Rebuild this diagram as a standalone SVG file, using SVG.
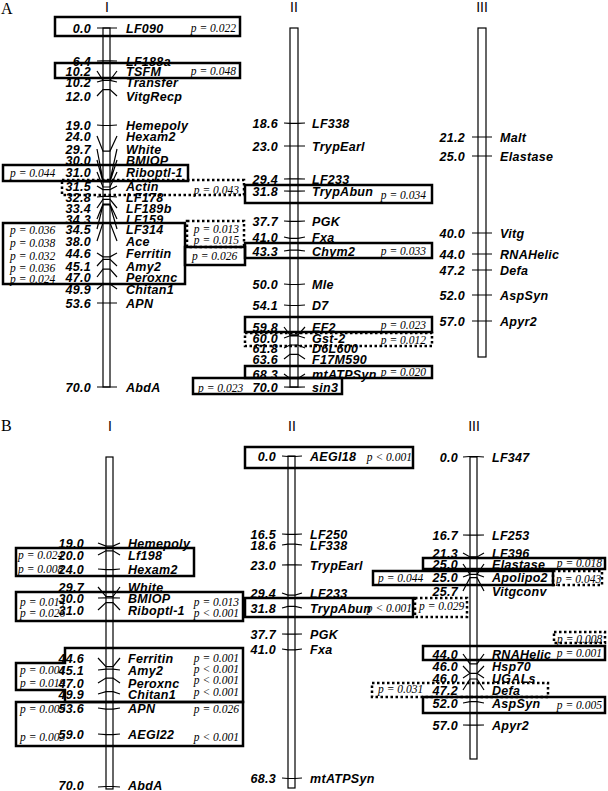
<svg xmlns="http://www.w3.org/2000/svg" width="608" height="791" viewBox="0 0 608 791">
<style>
.bar{fill:#fff;stroke:#000;stroke-width:1.2}
.tk{fill:none;stroke:#000;stroke-width:1.2}
.bx{fill:none;stroke:#000;stroke-width:2.5}
.dt{fill:none;stroke:#000;stroke-width:2.5;stroke-dasharray:2.5 2.5}
.n{font-family:"Liberation Sans",Arial,sans-serif;font-style:italic;font-weight:bold;font-size:12.5px;letter-spacing:0.3px}
.e{text-anchor:end}
.p{font-family:"Liberation Serif","Times New Roman",serif;font-style:italic;font-size:11.5px}
.rn{font-family:"Liberation Sans",Arial,sans-serif;font-size:14px;text-anchor:middle;fill:#000}
.pl{font-family:"Liberation Serif","Times New Roman",serif;font-size:16px}
</style>
<rect width="608" height="791" fill="#fff"/>
<text class="pl" x="1" y="14">A</text>
<text class="pl" x="1" y="431">B</text>

<g id="chrA1">
<text class="rn" x="107" y="12">I</text>
<rect class="bar" x="103" y="28" width="7" height="359"/>
</g>
<g id="chrA2">
<text class="rn" x="294" y="12">II</text>
<rect class="bar" x="290" y="28" width="8" height="359"/>
</g>
<g id="chrA3">
<text class="rn" x="482" y="12">III</text>
<rect class="bar" x="478" y="28" width="8" height="329"/>
</g>
<g id="chrB1">
<text class="rn" x="110" y="431">I</text>
<rect class="bar" x="106" y="457" width="7" height="332"/>
</g>
<g id="chrB2">
<text class="rn" x="292" y="431">II</text>
<rect class="bar" x="288" y="456" width="7" height="332"/>
</g>
<g id="chrB3">
<text class="rn" x="474" y="431">III</text>
<rect class="bar" x="470" y="457" width="7" height="302"/>
</g>

<g id="connectors" class="tk">
<path d="M97 28L103 28H110L117 28M97 61L103 60.8H110L117 61M97 71L103 80.3H110L117 71M97 82L103 80.3H110L117 82M97 96L103 89.6H110L117 96M97 125L103 125.5H110L117 125M97 136L103 151.1H110L117 136M97 149L103 180.4H110L117 149M97 160L103 181.9H110L117 160M97 172L103 187H110L117 172M97 186L103 189.6H110L117 186M97 197L103 196.3H110L117 197M97 208L103 199.3H110L117 208M97 219L103 204H110L117 219M97 229L103 205H110L117 229M97 241L103 222.9H110L117 241M97 253L103 256.8H110L117 253M97 266L103 259.4H110L117 266M97 277L103 269.1H110L117 277M97 289L103 284H110L117 289M97 303L103 303H110L117 303M97 387L103 387H110L117 387"/>
<path d="M284 123L290 123.4H298L305 123M284 146L290 146H298L305 146M284 179L290 178.8H298L305 179M284 191L290 191.1H298L305 191M284 221L290 221.4H298L305 221M284 237L290 238.3H298L305 237M284 251L290 250.1H298L305 251M284 284L290 284.5H298L305 284M284 305L290 305.5H298L305 305M284 327L290 334.8H298L305 327M284 338L290 335.8H298L305 338M284 348L290 345H298L305 348M284 359L290 354.3H298L305 359M284 374L290 378.4H298L305 374M284 387L290 387.1H298L305 387"/>
<path d="M472 137H492M472 156H492M472 233H492M472 254H492M472 270H492M472 295H492M472 321H492"/>
<path d="M98 543L106 546.1H113L120 543M98 555L106 550.8H113L120 555M98 569L106 569.6H113L120 569M98 587L106 596.5H113L120 587M98 598L106 597.9H113L120 598M98 610L106 602.6H113L120 610M98 658L106 666.7H113L120 658M98 670L106 669.1H113L120 670M98 683L106 678.1H113L120 683M98 694L106 691.7H113L120 694M98 708L106 709.2H113L120 708M98 734L106 734.6H113L120 734M98 787L106 786.5H113L120 787"/>
<path d="M282 456L288 456.5H295L302 456M282 534L288 534.3H295L302 534M282 545L288 544.2H295L302 545M282 565L288 564.9H295L302 565M282 593L288 595.1H295L302 593M282 608L288 606.4H295L302 608M282 634L288 634.2H295L302 634M282 649L288 649.8H295L302 649M282 778L288 778.5H295L302 778"/>
<path d="M463 457L470 456.5H477L484 457M463 535L470 535.2H477L484 535M463 553L470 556.9H477L484 553M463 564L470 574.4H477L484 564M463 577L470 574.4H477L484 577M463 591L470 577.6H477L484 591M463 654L470 663.9H477L484 654M463 666L470 673.3H477L484 666M463 678L470 673.3H477L484 678M463 690L470 679H477L484 690M463 703L470 701.6H477L484 703M463 725L470 725.2H477L484 725"/>
</g>

<g id="labelsA1" class="n">
<g class="e">
<text x="91" y="32.5">0.0</text><text x="91" y="65.5">6.4</text><text x="91" y="75.5">10.2</text><text x="91" y="86.5">10.2</text><text x="91" y="100.5">12.0</text><text x="91" y="129.5">19.0</text><text x="91" y="140.5">24.0</text><text x="91" y="153.5">29.7</text><text x="91" y="164.5">30.0</text><text x="91" y="176.5">31.0</text><text x="91" y="190.5">31.5</text><text x="91" y="201.5">32.8</text><text x="91" y="212.5">33.4</text><text x="91" y="223.5">34.3</text><text x="91" y="233.5">34.5</text><text x="91" y="245.5">38.0</text><text x="91" y="257.5">44.6</text><text x="91" y="270.5">45.1</text><text x="91" y="281.5">47.0</text><text x="91" y="293.5">49.9</text><text x="91" y="307.5">53.6</text><text x="91" y="391.5">70.0</text>
</g>
<text x="126" y="32.5">LF090</text><text x="126" y="65.5">LF188a</text><text x="126" y="75.5">TSFM</text><text x="126" y="86.5">Transfer</text><text x="126" y="100.5">VitgRecp</text><text x="126" y="129.5">Hemepoly</text><text x="126" y="140.5">Hexam2</text><text x="126" y="153.5">White</text><text x="126" y="164.5">BMIOP</text><text x="126" y="176.5">Riboptl-1</text><text x="126" y="190.5">Actin</text><text x="126" y="201.5">LF178</text><text x="126" y="212.5">LF189b</text><text x="126" y="223.5">LF159</text><text x="126" y="233.5">LF314</text><text x="126" y="245.5">Ace</text><text x="126" y="257.5">Ferritin</text><text x="126" y="270.5">Amy2</text><text x="126" y="281.5">Peroxnc</text><text x="126" y="293.5">Chitan1</text><text x="126" y="307.5">APN</text><text x="126" y="391.5">AbdA</text>
</g>

<g id="labelsA2" class="n">
<g class="e">
<text x="278" y="127.5">18.6</text><text x="278" y="150.5">23.0</text><text x="278" y="183.5">29.4</text><text x="278" y="195.5">31.8</text><text x="278" y="225.5">37.7</text><text x="278" y="241.5">41.0</text><text x="278" y="255.5">43.3</text><text x="278" y="288.5">50.0</text><text x="278" y="309.5">54.1</text><text x="278" y="331.5">59.8</text><text x="278" y="342.5">60.0</text><text x="278" y="352.5">61.8</text><text x="278" y="363.5">63.6</text><text x="278" y="378.5">68.3</text><text x="278" y="391.5">70.0</text>
</g>
<text x="312" y="127.5">LF338</text><text x="312" y="150.5">TrypEarl</text><text x="312" y="183.5">LF233</text><text x="312" y="195.5">TrypAbun</text><text x="312" y="225.5">PGK</text><text x="312" y="241.5">Fxa</text><text x="312" y="255.5">Chym2</text><text x="312" y="288.5">Mle</text><text x="312" y="309.5">D7</text><text x="312" y="331.5">EF2</text><text x="312" y="342.5">Gst-2</text><text x="312" y="352.5">D6L600</text><text x="312" y="363.5">F17M590</text><text x="312" y="378.5">mtATPSyn</text><text x="312" y="391.5">sin3</text>
</g>

<g id="labelsA3" class="n">
<g class="e">
<text x="465" y="141.5">21.2</text><text x="465" y="160.5">25.0</text><text x="465" y="237.5">40.0</text><text x="465" y="258.5">44.0</text><text x="465" y="274.5">47.2</text><text x="465" y="299.5">52.0</text><text x="465" y="325.5">57.0</text>
</g>
<text x="500" y="141.5">Malt</text><text x="500" y="160.5">Elastase</text><text x="500" y="237.5">Vitg</text><text x="500" y="258.5">RNAHelic</text><text x="500" y="274.5">Defa</text><text x="500" y="299.5">AspSyn</text><text x="500" y="325.5">Apyr2</text>
</g>

<g id="labelsB1" class="n">
<g class="e">
<text x="84" y="547.5">19.0</text><text x="84" y="559.5">20.0</text><text x="84" y="573.5">24.0</text><text x="84" y="591.5">29.7</text><text x="84" y="602.5">30.0</text><text x="84" y="614.5">31.0</text><text x="84" y="662.5">44.6</text><text x="84" y="674.5">45.1</text><text x="84" y="687.5">47.0</text><text x="84" y="698.5">49.9</text><text x="84" y="712.5">53.6</text><text x="84" y="738.5">59.0</text><text x="84" y="790">70.0</text>
</g>
<text x="128" y="547.5">Hemepoly</text><text x="128" y="559.5">Lf198</text><text x="128" y="573.5">Hexam2</text><text x="128" y="591.5">White</text><text x="128" y="602.5">BMIOP</text><text x="128" y="614.5">Riboptl-1</text><text x="128" y="662.5">Ferritin</text><text x="128" y="674.5">Amy2</text><text x="128" y="687.5">Peroxnc</text><text x="128" y="698.5">Chitan1</text><text x="128" y="712.5">APN</text><text x="128" y="738.5">AEGI22</text><text x="128" y="790">AbdA</text>
</g>

<g id="labelsB2" class="n">
<g class="e">
<text x="276" y="460.5">0.0</text><text x="276" y="538.5">16.5</text><text x="276" y="549.5">18.6</text><text x="276" y="569.5">23.0</text><text x="276" y="597.5">29.4</text><text x="276" y="612.5">31.8</text><text x="276" y="638.5">37.7</text><text x="276" y="653.5">41.0</text><text x="276" y="782.5">68.3</text>
</g>
<text x="310" y="460.5">AEGI18</text><text x="310" y="538.5">LF250</text><text x="310" y="549.5">LF338</text><text x="310" y="569.5">TrypEarl</text><text x="310" y="597.5">LF233</text><text x="310" y="612.5">TrypAbun</text><text x="310" y="638.5">PGK</text><text x="310" y="653.5">Fxa</text><text x="310" y="782.5">mtATPSyn</text>
</g>

<g id="labelsB3" class="n">
<g class="e">
<text x="458" y="461.5">0.0</text><text x="458" y="539.5">16.7</text><text x="458" y="557.5">21.3</text><text x="458" y="568.5">25.0</text><text x="458" y="581.5">25.0</text><text x="458" y="595.5">25.7</text><text x="458" y="658.5">44.0</text><text x="458" y="670.5">46.0</text><text x="458" y="682.5">46.0</text><text x="458" y="694.5">47.2</text><text x="458" y="707.5">52.0</text><text x="458" y="729.5">57.0</text>
</g>
<text x="492" y="461.5">LF347</text><text x="492" y="539.5">LF253</text><text x="492" y="557.5">LF396</text><text x="492" y="568.5">Elastase</text><text x="492" y="581.5">Apolipo2</text><text x="492" y="595.5">Vitgconv</text><text x="492" y="658.5">RNAHelic</text><text x="492" y="670.5">Hsp70</text><text x="492" y="682.5">UGALs</text><text x="492" y="694.5">Defa</text><text x="492" y="707.5">AspSyn</text><text x="492" y="729.5">Apyr2</text>
</g>

<g id="qtlA">
<rect class="bx" x="55" y="17" width="185" height="19"/>
<rect class="bx" x="55" y="63" width="185" height="15"/>
<rect class="bx" x="3" y="165" width="185" height="16"/>
<rect class="dt" x="62" y="180" width="182" height="15"/>
<rect class="bx" x="3" y="223" width="182" height="61"/>
<rect class="dt" x="187" y="221" width="57" height="26"/>
<rect class="bx" x="185" y="247" width="60" height="18"/>
<rect class="bx" x="245" y="243" width="187" height="15"/>
<rect class="bx" x="245" y="185" width="187" height="18"/>
<rect class="bx" x="245" y="317" width="187" height="15"/>
<rect class="dt" x="245" y="333" width="187" height="13"/>
<rect class="bx" x="245" y="366" width="187" height="12"/>
<rect class="bx" x="193" y="378" width="149" height="16"/>
<g class="p">
<text class="e" x="236" y="31.5">p = 0.022</text>
<text class="e" x="236" y="74.5">p = 0.048</text>
<text x="10" y="176.5">p = 0.044</text>
<text class="e" x="239" y="193.5">p = 0.043</text>
<text x="10" y="233.5">p = 0.036</text>
<text x="10" y="246.5">p = 0.038</text>
<text x="10" y="259.5">p = 0.032</text>
<text x="10" y="271.5">p = 0.036</text>
<text x="10" y="282.5">p = 0.024</text>
<text class="e" x="239" y="232.5">p = 0.013</text>
<text class="e" x="239" y="243.5">p = 0.015</text>
<text x="192" y="259.5">p = 0.026</text>
<text class="e" x="426" y="198.5">p = 0.034</text>
<text class="e" x="426" y="254.5">p = 0.033</text>
<text class="e" x="426" y="328.5">p = 0.023</text>
<text class="e" x="426" y="343.5">p = 0.012</text>
<text class="e" x="426" y="375.5">p = 0.020</text>
<text x="198" y="391.5">p = 0.023</text>
</g>
</g>

<g id="qtlB">
<rect class="bx" x="16" y="548" width="178" height="28"/>
<rect class="bx" x="16" y="592" width="227" height="29"/>
<path class="bx" d="M65 648H243V702H65V690H16V663H65Z"/>
<rect class="bx" x="16" y="702" width="227" height="44"/>
<rect class="bx" x="245" y="447" width="168" height="21"/>
<rect class="bx" x="245" y="598" width="168" height="19"/>
<rect class="dt" x="415" y="598" width="52" height="19"/>
<rect class="bx" x="423" y="558" width="182" height="11"/>
<rect class="bx" x="373" y="571" width="180" height="14"/>
<rect class="dt" x="553" y="571" width="49" height="14"/>
<rect class="dt" x="554" y="632" width="51" height="11"/>
<rect class="bx" x="423" y="646" width="182" height="14"/>
<rect class="dt" x="372" y="683" width="176" height="14"/>
<rect class="bx" x="423" y="697" width="182" height="16"/>
<g class="p">
<text x="18" y="558.5">p = 0.024</text>
<text x="18" y="572.5">p = 0.008</text>
<text x="20" y="605.5">p = 0.014</text>
<text x="20" y="616.5">p = 0.026</text>
<text class="e" x="239" y="605.5">p = 0.013</text>
<text class="e" x="239" y="616.5">p &lt; 0.001</text>
<text x="20" y="673.5">p = 0.001</text>
<text x="20" y="686.5">p = 0.019</text>
<text class="e" x="239" y="661.5">p = 0.001</text>
<text class="e" x="239" y="672.5">p &lt; 0.001</text>
<text class="e" x="239" y="683.5">p &lt; 0.001</text>
<text class="e" x="239" y="695.5">p &lt; 0.001</text>
<text x="20" y="712.5">p = 0.009</text>
<text x="20" y="740.5">p = 0.003</text>
<text class="e" x="239" y="712.5">p = 0.026</text>
<text class="e" x="239" y="740.5">p &lt; 0.001</text>
<text class="e" x="412" y="460.5">p &lt; 0.001</text>
<text class="e" x="412" y="611.5">p &lt; 0.001</text>
<text x="419" y="609.5">p = 0.029</text>
<text class="e" x="602" y="566.5">p = 0.018</text>
<text x="378" y="581.5">p = 0.044</text>
<text x="556" y="582.5">p = 0.043</text>
<text x="557" y="642.5">p = 0.008</text>
<text class="e" x="602" y="656.5">p = 0.001</text>
<text x="378" y="692.5">p = 0.031</text>
<text class="e" x="602" y="708.5">p = 0.005</text>
</g>
</g>
</svg>
